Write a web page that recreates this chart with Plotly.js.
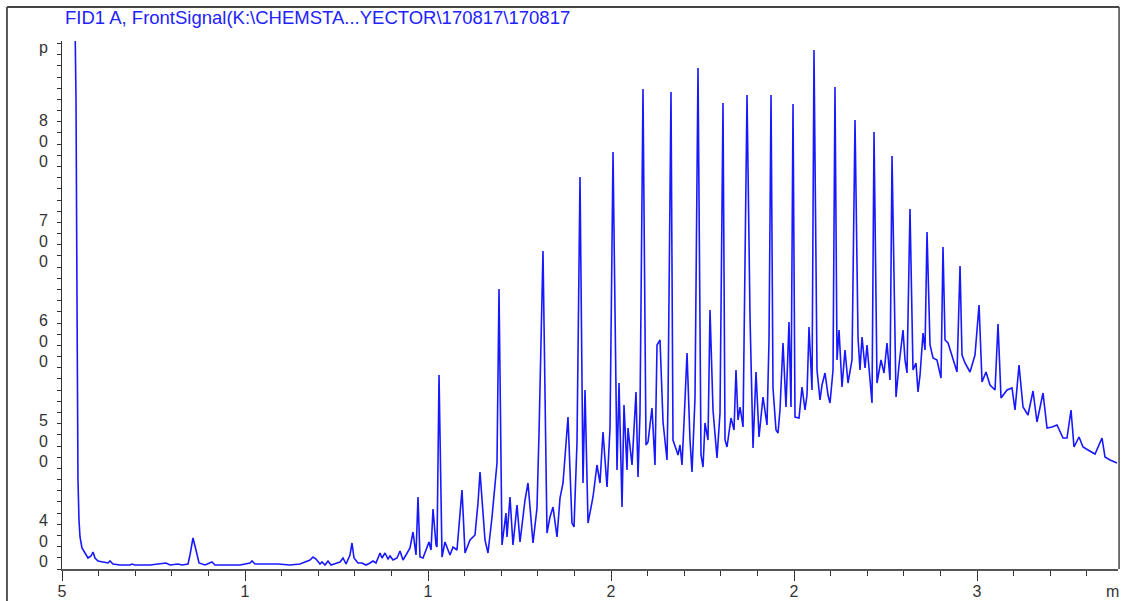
<!DOCTYPE html>
<html><head><meta charset="utf-8">
<script src="https://cdn.plot.ly/plotly-3.0.1.min.js"></script>
<style>html,body{margin:0;padding:0;background:#fff;}#chart{width:1121px;height:601px;}</style>
</head><body><div id="chart"></div>
<script>
// Retention time (min) and FID signal (pA)
const timeMin = [5.355,5.383,5.410,5.437,5.464,5.492,5.546,5.628,5.710,5.792,5.847,5.902,5.984,6.120,6.257,6.311,6.393,6.585,6.858,6.913,6.995,7.404,7.842,7.951,8.169,8.279,8.443,8.497,8.579,8.661,8.743,8.907,9.044,9.098,9.180,9.863,10.137,10.191,10.273,10.628,10.902,11.230,11.503,11.776,11.858,11.940,12.049,12.104,12.186,12.268,12.350,12.514,12.596,12.678,12.760,12.869,12.923,12.978,13.087,13.197,13.306,13.415,13.497,13.579,13.634,13.689,13.743,13.825,13.907,13.962,14.044,14.153,14.235,14.317,14.399,14.508,14.590,14.672,14.727,14.781,14.863,14.945,15.027,15.082,15.137,15.219,15.246,15.301,15.383,15.464,15.601,15.683,15.792,15.929,16.011,16.148,16.284,16.366,16.421,16.557,16.639,16.749,16.831,16.885,16.940,17.022,17.131,17.158,17.240,17.322,17.432,17.514,17.650,17.732,17.869,17.978,18.033,18.142,18.251,18.333,18.415,18.525,18.607,18.689,18.825,18.934,18.989,19.071,19.153,19.235,19.290,19.372,19.508,19.617,19.699,19.781,19.891,19.973,20.055,20.164,20.219,20.301,20.355,20.437,20.464,20.574,20.683,20.738,20.792,20.874,20.956,21.011,21.120,21.202,21.257,21.339,21.421,21.475,21.530,21.557,21.639,21.694,21.749,21.831,21.885,21.940,21.995,22.077,22.158,22.213,22.295,22.377,22.459,22.514,22.568,22.650,22.705,22.787,22.896,22.978,23.060,23.115,23.169,23.279,23.361,23.415,23.470,23.525,23.607,23.716,23.798,23.880,23.962,24.044,24.153,24.262,24.317,24.372,24.426,24.508,24.563,24.617,24.699,24.781,24.863,24.918,24.973,25.027,25.137,25.219,25.301,25.355,25.410,25.492,25.546,25.628,25.710,25.765,25.847,25.929,25.984,26.066,26.120,26.175,26.230,26.311,26.393,26.475,26.585,26.667,26.749,26.803,26.858,26.940,26.995,27.077,27.131,27.186,27.268,27.377,27.459,27.541,27.623,27.678,27.787,27.869,27.978,28.033,28.087,28.169,28.251,28.333,28.388,28.443,28.525,28.579,28.634,28.716,28.798,28.907,29.016,29.071,29.126,29.208,29.317,29.454,29.536,29.590,29.672,29.809,29.945,30.055,30.137,30.246,30.355,30.492,30.574,30.656,30.820,30.956,31.038,31.148,31.257,31.393,31.530,31.639,31.803,31.913,32.049,32.186,32.350,32.459,32.568,32.650,32.787,32.896,33.033,33.224,33.415,33.497,33.634,33.825];
const signalPA = [921,841,641,461,421,404,393,388,383,385,389,383,380,379,378,380,377,376,376,377,376,376,378,376,377,376,377,386,403,391,378,376,378,379,376,376,378,380,377,377,377,376,377,381,384,382,377,379,376,380,376,378,379,383,377,386,398,383,378,378,376,378,380,378,383,388,383,388,382,385,381,383,390,381,386,393,409,386,444,384,383,391,399,391,432,396,394,566,384,399,386,394,391,451,388,401,406,438,469,401,388,424,460,478,652,396,428,404,444,396,436,399,441,458,398,433,508,690,408,424,434,404,443,458,524,418,414,499,764,458,551,418,444,476,458,509,454,513,789,471,558,434,536,471,513,476,549,464,528,852,496,499,533,476,596,601,519,501,481,539,849,501,494,486,496,476,519,588,501,469,543,873,486,474,518,501,631,531,483,528,838,501,494,523,511,571,521,534,514,846,624,493,569,504,544,516,601,846,553,511,508,531,598,534,619,534,837,524,523,554,531,546,614,551,891,571,541,556,568,546,538,571,854,581,611,554,591,558,581,821,603,571,604,573,596,561,538,809,558,581,568,598,561,785,544,576,611,581,568,732,571,578,549,566,608,591,709,596,583,581,563,694,601,598,584,569,675,586,578,569,586,636,559,569,556,551,617,543,551,553,531,576,534,526,550,519,548,513,514,516,503,503,531,494,504,494,491,487,503,484,481,478];

const xTickVals = [5, 10, 15, 20, 25, 30];
const xTickText = ['5', '1', '1', '2', '2', '3'];
const yTickVals = [893.5, 800, 700, 600, 500, 400];
const yTickText = ['p', '8<br>0<br>0', '7<br>0<br>0', '6<br>0<br>0', '5<br>0<br>0', '4<br>0<br>0'];
const titleText = 'FID1 A, FrontSignal(K:\\CHEMSTA...YECTOR\\170817\\170817';
const xUnitText = 'm';

const FONT = 'Liberation Sans, Arial, sans-serif';

const trace = {
  x: timeMin, y: signalPA, type: 'scatter', mode: 'lines',
  line: {color: 'rgb(24,24,255)', width: 1.6},
  hoverinfo: 'x+y'
};

const layout = {
  width: 1121, height: 601,
  margin: {l: 62, r: 3, t: 41, b: 32, pad: 0},
  paper_bgcolor: '#ffffff', plot_bgcolor: '#ffffff',
  showlegend: false,
  title: {
    text: titleText, xref: 'container', yref: 'container',
    x: 65 / 1121, xanchor: 'left', y: 1 - 18 / 601, yanchor: 'middle',
    font: {family: FONT, size: 18.5, color: '#2222ff'}
  },
  xaxis: {
    range: [5, 33.852], tickmode: 'array', tickvals: xTickVals, ticktext: xTickText,
    ticks: 'outside', ticklen: 10, tickwidth: 1, tickcolor: '#333',
    showline: true, linecolor: '#555', linewidth: 2,
    showgrid: false, zeroline: false, fixedrange: true,
    ticklabelstandoff: -3,
    tickfont: {family: FONT, size: 16, color: '#333'},
    minor: {tick0: 5, dtick: 1, ticks: 'outside', ticklen: 5, tickwidth: 1, tickcolor: '#333', showgrid: false}
  },
  yaxis: {
    range: [372, 900], tickmode: 'array', tickvals: yTickVals, ticktext: yTickText,
    ticks: '', showline: true, linecolor: '#333', linewidth: 1,
    showgrid: false, zeroline: false, fixedrange: true,
    ticklabelstandoff: 10,
    tickfont: {family: FONT, size: 16, color: '#333'},
    minor: {tick0: 372, dtick: 11.18, ticks: 'outside', ticklen: 4, tickwidth: 1, tickcolor: '#333', showgrid: false}
  },
  annotations: [{
    text: xUnitText, xref: 'x', yref: 'paper', x: 33.69, y: -0.043,
    xanchor: 'center', yanchor: 'middle', showarrow: false,
    font: {family: FONT, size: 16, color: '#333'}
  }],
  shapes: [
    {type: 'line', xref: 'paper', yref: 'paper', x0: -0.0521, x1: -0.0521, y0: 1.0644, y1: -0.08, line: {color: '#222', width: 1.5}},
    {type: 'line', xref: 'paper', yref: 'paper', x0: -0.0521, x1: 1.001, y0: 1.0644, y1: 1.0644, line: {color: '#444', width: 2}},
    {type: 'line', xref: 'paper', yref: 'paper', x0: 1.001, x1: 1.001, y0: 1.0644, y1: 0, line: {color: '#444', width: 1.5}}
  ]
};

Plotly.newPlot('chart', [trace], layout, {displayModeBar: false, staticPlot: true});
</script>
</body></html>
